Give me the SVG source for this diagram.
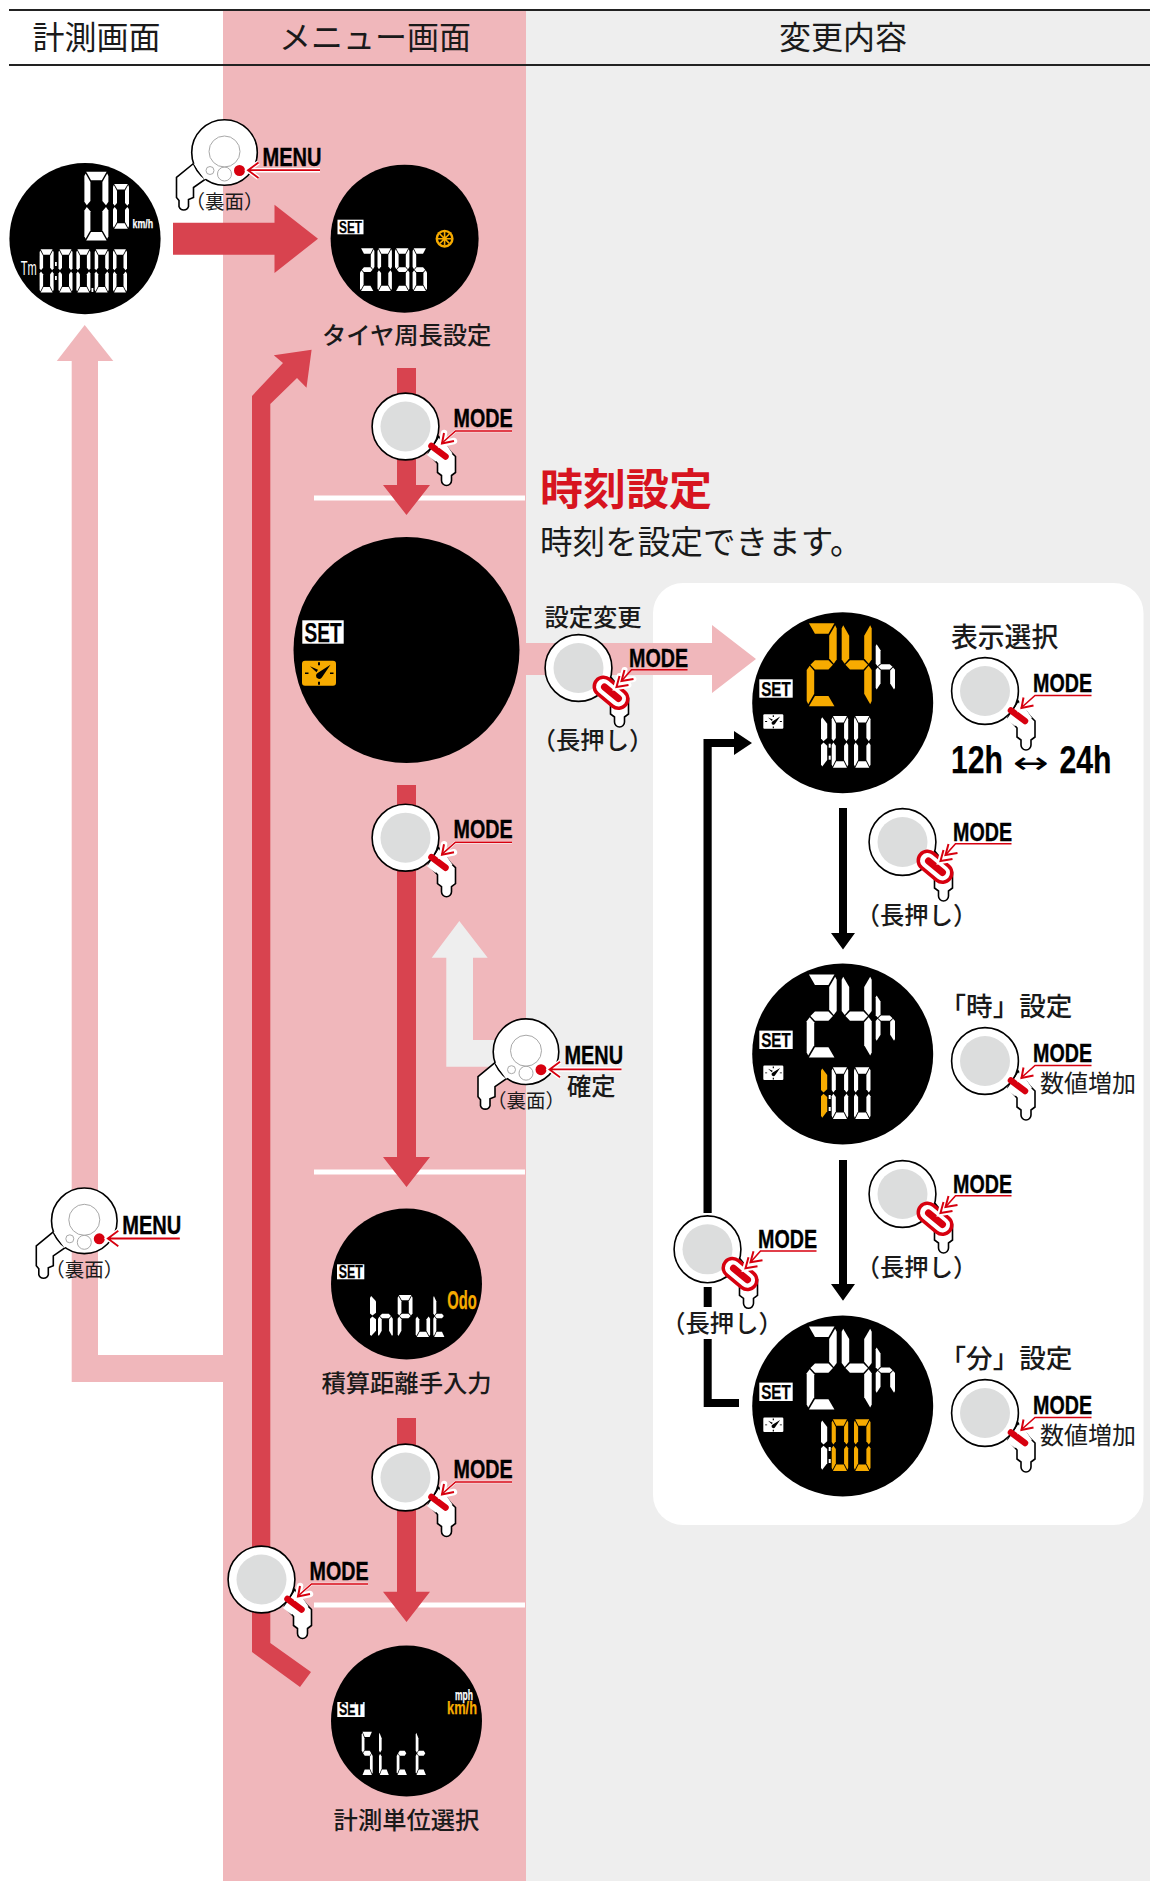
<svg xmlns="http://www.w3.org/2000/svg" width="1150" height="1881" viewBox="0 0 1150 1881">
<style>
text{font-family:"Noto Sans CJK JP","Noto Sans",sans-serif;fill:#1a1a1a}
.c{text-anchor:middle}
.h{font-size:32px}
.m{font-size:24.3px;font-weight:500}
.n{font-family:"Liberation Sans Narrow","Liberation Sans",sans-serif;font-weight:700;fill:#000;stroke:#000;stroke-width:.25}
.lb{font-family:"Liberation Sans Narrow","Liberation Sans",sans-serif;font-weight:700;font-size:25px;fill:#000;stroke:#000;stroke-width:.35}
.ol{stroke:#000;stroke-width:1.6;fill:#fff}
.gr{fill:none;stroke:#a8a8a8;stroke-width:1}
.rl{fill:none;stroke:#d7000f;stroke-width:1.6}
.hl{fill:none;stroke:#fff;stroke-width:2.6}
.sub{font-size:19.5px}
</style>
<defs>
<polygon id="sa" points="3,0 37,0 29,10 11,10"/>
<polygon id="sb" points="38,2 40,5 40,35 36,39 30,34 30,12"/>
<polygon id="sc" points="40,45 40,75 38,78 30,68 30,46 36,41"/>
<polygon id="sd" points="37,80 3,80 11,70 29,70"/>
<polygon id="se" points="0,45 4,41 10,46 10,68 2,78 0,75"/>
<polygon id="sf" points="0,5 2,2 10,12 10,34 4,39 0,35"/>
<polygon id="sg" points="5,40 11,35.5 29,35.5 35,40 29,44.5 11,44.5"/>
<g id="d0"><use href="#sa"/><use href="#sb"/><use href="#sc"/><use href="#sd"/><use href="#se"/><use href="#sf"/></g>
<g id="d1"><use href="#se"/><use href="#sf"/></g>
<g id="d2"><use href="#sa"/><use href="#sb"/><use href="#sg"/><use href="#se"/><use href="#sd"/></g>
<g id="d4"><use href="#sf"/><use href="#sg"/><use href="#sb"/><use href="#sc"/></g>
<g id="d5"><use href="#sa"/><use href="#sf"/><use href="#sg"/><use href="#sc"/><use href="#sd"/></g>
<g id="d6"><use href="#sa"/><use href="#sf"/><use href="#sg"/><use href="#se"/><use href="#sc"/><use href="#sd"/></g>
<g id="d9"><use href="#sa"/><use href="#sb"/><use href="#sf"/><use href="#sg"/><use href="#sc"/><use href="#sd"/></g>
<g id="dh"><use href="#sf"/><use href="#se"/><use href="#sg"/><use href="#sc"/></g>
<g id="dn"><use href="#se"/><use href="#sg"/><use href="#sc"/></g>
<g id="dP"><use href="#sa"/><use href="#sb"/><use href="#sf"/><use href="#sg"/><use href="#se"/></g>
<g id="du"><use href="#se"/><use href="#sd"/><use href="#sc"/></g>
<g id="dt"><use href="#sf"/><use href="#se"/><use href="#sg"/><use href="#sd"/></g>
<g id="dL"><use href="#sf"/><use href="#se"/><use href="#sd"/></g>
<g id="dc"><use href="#sg"/><use href="#se"/><use href="#sd"/></g>
<g id="clock">
<path d="M0,3a3,3 0 0 1 3,-3H31a3,3 0 0 1 3,3V22a3,3 0 0 1 -3,3H3a3,3 0 0 1 -3,-3Z"/>
<path d="M16,1.5h2v3h-2zM16,21h2v3h-2zM3,11.7h3.5v1.6H3zM28,11.7h3.5v1.6H28zM8,5.5l8,3.5-1.5,2.5zM28.5,4L20,16.5a3.2,3.2 0 0 1-6,-1.5a3.2,3.2 0 0 1 2,-3Z" fill="#000"/>
</g>
<g id="clockw">
<path d="M0,2a2,2 0 0 1 2,-2H32a2,2 0 0 1 2,2V23a2,2 0 0 1 -2,2H2a2,2 0 0 1 -2,-2Z" fill="#fff"/>
<path d="M16,1.5h2v3h-2zM16,21h2v3h-2zM3,11.7h3.5v1.6H3zM28,11.7h3.5v1.6H28zM8,5.5l8,3.5-1.5,2.5zM28.5,4L20,16.5a3.2,3.2 0 0 1-6,-1.5a3.2,3.2 0 0 1 2,-3Z" fill="#000"/>
</g>
<g id="front">
<path class="ol" d="M23,27L32,37V46L36,49V54A5,5 0 0 0 46,54V49L50,46V30L45,25L33,10Z"/>
<circle class="ol" r="33.4"/>
<circle r="25" fill="#dcdddd"/>
<path fill="#fff" d="M31.5,15L21.5,28.5L30,35L47,27L38,14Z"/>
<path d="M26,19.5L40,30" stroke="#d7000f" stroke-width="6.5" stroke-linecap="round" fill="none"/>
<path d="M36,17L50,4.5H106.5" class="hl"/>
<path d="M38.5,6.5L36.5,17L48.5,14.5" fill="none" stroke="#fff" stroke-width="6.5" stroke-linecap="round"/>
<path d="M36,17L50,4.5H106.5" class="rl"/>
<path d="M38.5,6.5L36.5,17L48.5,14.5" fill="none" stroke="#d7000f" stroke-width="2"/>
</g>
<g id="long">
<path class="ol" d="M23,27L32,37V46L36,49V54A5,5 0 0 0 46,54V49L50,46V30L45,25L33,10Z"/>
<circle class="ol" r="33.4"/>
<circle r="25" fill="#dcdddd"/>
<path d="M25,18.5L40,31" stroke="#d7000f" stroke-width="22" stroke-linecap="round" fill="none"/>
<path d="M25,18.5L40,31" stroke="#fff" stroke-width="15" stroke-linecap="round" fill="none"/>
<path d="M26,19L40,30.5" stroke="#d7000f" stroke-width="7" stroke-linecap="round" fill="none"/>
<path d="M41,8L38,19L50,17M46,2L43,13L55,11" fill="none" stroke="#fff" stroke-width="6" stroke-linecap="round"/>
<path d="M43,13L53,1.7H109" class="rl"/>
<path d="M41,8L38,19L50,17M46,2L43,13L55,11" fill="none" stroke="#d7000f" stroke-width="2"/>
</g>
<g id="back">
<path class="ol" d="M-31,11L-48,25V45L-45.5,48V54A5,5 0 0 0 -36,54V47L-31,45V35L-19.5,27L0,0Z"/>
<circle class="ol" r="32.8"/>
<path d="M-31,11L-20,27L0,15Z" fill="#fff"/>
<circle class="gr" cy="-1" r="15.5"/>
<circle class="gr" cx="-14.5" cy="18" r="4"/>
<circle class="gr" cy="21.5" r="7"/>
<circle cx="15" cy="18" r="5.5" fill="#d7000f"/>
<path d="M34,10L23.5,17.7L34,25.5M25,17.7H95.5" fill="none" stroke="#fff" stroke-width="4.5"/>
<path d="M34,10L23.5,17.7L34,25.5M25,17.7H95.5" fill="none" stroke="#d7000f" stroke-width="1.8"/>
</g>
</defs>

<rect width="1150" height="1881" fill="#fff"/>
<rect x="526" y="10" width="624" height="1871" fill="#eeeeee"/>
<rect x="223" y="10" width="303" height="1871" fill="#f0b7bb"/>
<rect x="653" y="583" width="490.5" height="942" rx="30" fill="#fff"/>
<path d="M9,10H1150M9,65H1150" stroke="#222" stroke-width="2" fill="none"/>
<g id="headers">
<text class="h c" x="96.5" y="49">計測画面</text>
<text class="h c" x="375" y="49">メニュー画面</text>
<text class="h c" x="843" y="49">変更内容</text>
</g>
<path id="dividers" d="M314,498H525M314,1172H525M314,1605H525" stroke="#fff" stroke-width="5" fill="none"/>

<g id="connectors">
<path fill="#f0b7bb" d="M84.7,325L113.3,361H98V1355H223V1382H71.7V361H56.8Z"/>
<path fill="#f0b7bb" d="M526,643H712V625L756,659L712,693V675H526Z"/>
<path fill="#d8434f" d="M173,222.7H274.5V204.7L318,238.7L274.5,273V254.7H173Z"/>
<path fill="#d8434f" d="M397,368H416V485H430L406.5,515L383,485H397Z"/>
<path fill="#d8434f" d="M397,785H416V1157H430L406.5,1187L383,1157H397Z"/>
<path fill="#d8434f" d="M397,1418H416V1591.7H430L406.5,1622L383,1591.7H397Z"/>
<path fill="#d8434f" d="M252,396L283,363L273.8,355.3L311.6,349.7L306.5,387.7L297,378L270.3,404V1643L311,1672L300,1687L252,1652Z"/>
<path fill="#eeeeee" d="M459.3,921L487.7,957.7H473V1040H510V1066.7H446.3V957.7H431.7Z"/>
<path fill="#000" d="M839,808H847V933H855L843,949.5L831,933H839Z"/>
<path fill="#000" d="M839,1160H847V1284H855L843,1300.7L831,1284H839Z"/>
<path fill="#000" d="M703.5,1213V739H734V731L752,743L734,755V747H711.7V1213Z"/>
<path fill="#000" d="M703.7,1287H711.7V1307H703.7ZM703.7,1339H711.7V1399H739V1407H703.7Z"/>
</g>

<g id="device-speed">
<circle cx="85" cy="238.7" r="75.6" fill="#000"/>
<g fill="#fff">
<use href="#d0" transform="translate(84.4,171.7) scale(.6,.86)"/>
<use href="#d0" transform="translate(113,184) scale(.4,.56)"/>
<use href="#d0" transform="translate(39.6,249.3) scale(.35,.54)"/>
<use href="#d0" transform="translate(58.5,249.3) scale(.35,.54)"/>
<use href="#d0" transform="translate(76.4,249.3) scale(.35,.54)"/>
<use href="#d0" transform="translate(94.7,249.3) scale(.35,.54)"/>
<use href="#d0" transform="translate(113,249.3) scale(.35,.54)"/>
<rect x="55" y="262" width="1.8" height="4"/><rect x="55" y="276" width="1.8" height="4"/><rect x="91.5" y="288" width="1.8" height="4"/>
</g>
<text class="n" style="fill:#fff;stroke:#fff" x="132.6" y="227.7" font-size="12" textLength="20.5" lengthAdjust="spacingAndGlyphs">km/h</text>
<text class="n" style="fill:#fff;stroke:none;font-weight:400" x="20.7" y="275" font-size="20" textLength="16" lengthAdjust="spacingAndGlyphs">Tm</text>
</g>

<g id="device-tire">
<circle cx="404.6" cy="238.7" r="74" fill="#000"/>
<rect x="337.5" y="219.7" width="26" height="14.6" fill="#fff"/>
<text class="n" x="339" y="232.9" font-size="17" textLength="23" lengthAdjust="spacingAndGlyphs">SET</text>
<circle cx="444.6" cy="238.7" r="9" fill="#f7ab00"/>
<circle cx="444.6" cy="238.7" r="6.6" fill="#000"/>
<path d="M444.6,232V245.4M437.9,238.7H451.3M439.9,234L449.3,243.4M449.3,234L439.9,243.4" stroke="#f7ab00" stroke-width="1.6"/>
<g fill="#fff">
<use href="#d2" transform="translate(360,248.3) scale(.36,.535)"/>
<use href="#d0" transform="translate(377.5,248.3) scale(.36,.535)"/>
<use href="#d9" transform="translate(395,248.3) scale(.36,.535)"/>
<use href="#d6" transform="translate(412.6,248.3) scale(.36,.535)"/>
</g>
<text class="m c" x="406.7" y="343.5">タイヤ周長設定</text>
</g>

<g id="device-clock">
<circle cx="406.5" cy="650" r="113" fill="#000"/>
<rect x="302.3" y="620.3" width="41.4" height="23.4" fill="#fff"/>
<text class="n" x="304.5" y="641.5" font-size="27" textLength="37" lengthAdjust="spacingAndGlyphs">SET</text>
<use href="#clock" fill="#f7ab00" transform="translate(302,660.7)"/>
</g>

<g id="title">
<text x="540" y="505" font-size="43" font-weight="700" style="fill:#d7141f">時刻設定</text>
<text x="540" y="554" font-size="32.6">時刻を設定できます。</text>
</g>

<g id="device-time-hour-format" transform="translate(842.7,702.7)">
<circle r="90.5" fill="#000"/>
<g fill="#f7ab00">
<use href="#d2" transform="translate(-36,-79.4) scale(.75,1.0375)"/>
<use href="#d4" transform="translate(-1,-79.4) scale(.75,1.0375)"/>
</g>
<g fill="#fff">
<use href="#dh" transform="translate(33,-59.7) scale(.4825,.596)"/>
<use href="#d1" transform="translate(-21.7,13.3) scale(.62,.646)"/>
<use href="#d0" transform="translate(-11,13.3) scale(.4125,.646)"/>
<use href="#d0" transform="translate(11.3,13.3) scale(.4125,.646)"/>
<rect x="-14" y="41" width="2" height="4"/><rect x="-14" y="53" width="2" height="4"/>
</g>
<rect x="-83.4" y="-23.4" width="33.4" height="18.4" fill="#fff"/>
<text class="n" x="-81.5" y="-7" font-size="21" textLength="29.5" lengthAdjust="spacingAndGlyphs">SET</text>
<use href="#clockw" transform="translate(-79.4,11.6) scale(.59,.58)"/>
</g>

<g id="device-time-hour" transform="translate(842.7,1054)">
<circle r="90.5" fill="#000"/>
<g fill="#fff">
<use href="#d2" transform="translate(-36,-79.4) scale(.75,1.0375)"/>
<use href="#d4" transform="translate(-1,-79.4) scale(.75,1.0375)"/>
<use href="#dh" transform="translate(33,-59.7) scale(.4825,.596)"/>
<use href="#d0" transform="translate(-11,13.3) scale(.4125,.646)"/>
<use href="#d0" transform="translate(11.3,13.3) scale(.4125,.646)"/>
<rect x="-14" y="41" width="2" height="4"/><rect x="-14" y="53" width="2" height="4"/>
</g>
<use href="#d1" fill="#f7ab00" transform="translate(-21.7,13.3) scale(.62,.646)"/>
<rect x="-83.4" y="-23.4" width="33.4" height="18.4" fill="#fff"/>
<text class="n" x="-81.5" y="-7" font-size="21" textLength="29.5" lengthAdjust="spacingAndGlyphs">SET</text>
<use href="#clockw" transform="translate(-79.4,11.6) scale(.59,.58)"/>
</g>

<g id="device-time-minute" transform="translate(842.7,1406)">
<circle r="90.5" fill="#000"/>
<g fill="#fff">
<use href="#d2" transform="translate(-36,-79.4) scale(.75,1.0375)"/>
<use href="#d4" transform="translate(-1,-79.4) scale(.75,1.0375)"/>
<use href="#dh" transform="translate(33,-59.7) scale(.4825,.596)"/>
<use href="#d1" transform="translate(-21.7,13.3) scale(.62,.646)"/>
<rect x="-14" y="41" width="2" height="4"/><rect x="-14" y="53" width="2" height="4"/>
</g>
<g fill="#f7ab00">
<use href="#d0" transform="translate(-11,13.3) scale(.4125,.646)"/>
<use href="#d0" transform="translate(11.3,13.3) scale(.4125,.646)"/>
</g>
<rect x="-83.4" y="-23.4" width="33.4" height="18.4" fill="#fff"/>
<text class="n" x="-81.5" y="-7" font-size="21" textLength="29.5" lengthAdjust="spacingAndGlyphs">SET</text>
<use href="#clockw" transform="translate(-79.4,11.6) scale(.59,.58)"/>
</g>

<g id="device-input">
<circle cx="406.5" cy="1284" r="75.5" fill="#000"/>
<rect x="337" y="1264.3" width="27.3" height="15" fill="#fff"/>
<text class="n" x="338.7" y="1277.7" font-size="17.5" textLength="24" lengthAdjust="spacingAndGlyphs">SET</text>
<g fill="#fff">
<use href="#d1" transform="translate(370,1295) scale(.6,.525)"/>
<use href="#dn" transform="translate(378,1295) scale(.37,.525)"/>
<use href="#dP" transform="translate(397.7,1295) scale(.37,.525)"/>
<use href="#du" transform="translate(415.7,1295) scale(.36,.525)"/>
<use href="#dt" transform="translate(433.3,1295) scale(.3,.525)"/>
</g>
<text class="n" style="fill:#f7ab00;stroke:#f7ab00" x="447.3" y="1309" font-size="26" textLength="29.5" lengthAdjust="spacingAndGlyphs">Odo</text>
<text class="m c" x="406.5" y="1392">積算距離手入力</text>
</g>

<g id="device-units">
<circle cx="406.5" cy="1721" r="75.5" fill="#000"/>
<rect x="337.3" y="1702" width="27.3" height="15" fill="#fff"/>
<text class="n" x="339" y="1715.3" font-size="17.5" textLength="24" lengthAdjust="spacingAndGlyphs">SET</text>
<g fill="#fff">
<use href="#d5" transform="translate(361.7,1731.7) scale(.275,.54)"/>
<use href="#dL" transform="translate(379,1731.7) scale(.265,.54)"/>
<use href="#dc" transform="translate(396.7,1731.7) scale(.275,.54)"/>
<use href="#dt" transform="translate(415.7,1731.7) scale(.275,.54)"/>
</g>
<text class="n" style="fill:#fff;stroke:#fff" x="455" y="1700" font-size="14" textLength="18" lengthAdjust="spacingAndGlyphs">mph</text>
<text class="n" style="fill:#f7ab00;stroke:#f7ab00" x="447" y="1714.3" font-size="19" textLength="30" lengthAdjust="spacingAndGlyphs">km/h</text>
<text class="m c" x="406.5" y="1829">計測単位選択</text>
</g>

<g id="btn-menu-1" transform="translate(224.5,152.5)">
<use href="#back"/>
<text class="lb" x="38" y="13.2" textLength="59" lengthAdjust="spacingAndGlyphs">MENU</text>
<text class="c sub" x="0" y="56">（裏面）</text>
</g>
<g id="btn-menu-2" transform="translate(84.3,1220.8)">
<use href="#back"/>
<text class="lb" x="38" y="13.2" textLength="59" lengthAdjust="spacingAndGlyphs">MENU</text>
<text class="c sub" x="0" y="56">（裏面）</text>
</g>
<g id="btn-menu-3" transform="translate(526,1051.7)">
<use href="#back"/>
<text class="lb" x="38.5" y="12.5" textLength="58.5" lengthAdjust="spacingAndGlyphs">MENU</text>
<text class="c sub" x="0" y="56">（裏面）</text>
<text class="m" x="41" y="43.5">確定</text>
</g>

<g id="btn-mode-1" transform="translate(405.5,426.5)"><use href="#front"/><text class="lb" x="48" y="0.5" textLength="59" lengthAdjust="spacingAndGlyphs">MODE</text></g>
<g id="btn-mode-2" transform="translate(405.5,837.7)"><use href="#front"/><text class="lb" x="48" y="0.5" textLength="59" lengthAdjust="spacingAndGlyphs">MODE</text></g>
<g id="btn-mode-3" transform="translate(405.5,1477.5)"><use href="#front"/><text class="lb" x="48" y="0.5" textLength="59" lengthAdjust="spacingAndGlyphs">MODE</text></g>
<g id="btn-mode-4" transform="translate(261.5,1579.5)"><use href="#front"/><text class="lb" x="48" y="0.5" textLength="59" lengthAdjust="spacingAndGlyphs">MODE</text></g>
<g id="btn-mode-5" transform="translate(578.5,668)"><use href="#long"/><text class="lb" x="50.5" y="-1.2" textLength="59" lengthAdjust="spacingAndGlyphs">MODE</text><text class="m c" x="14" y="81">（長押し）</text><text class="m c" x="14.5" y="-42">設定変更</text></g>
<g id="btn-mode-6" transform="translate(985,691)"><use href="#front"/><text class="lb" x="48" y="0.5" textLength="59" lengthAdjust="spacingAndGlyphs">MODE</text></g>
<g id="btn-mode-7" transform="translate(902.5,842)"><use href="#long"/><text class="lb" x="50.5" y="-1.2" textLength="59" lengthAdjust="spacingAndGlyphs">MODE</text><text x="14" y="82" class="m c">（長押し）</text></g>
<g id="btn-mode-8" transform="translate(985,1061)"><use href="#front"/><text class="lb" x="48" y="0.5" textLength="59" lengthAdjust="spacingAndGlyphs">MODE</text></g>
<g id="btn-mode-9" transform="translate(902.5,1194)"><use href="#long"/><text class="lb" x="50.5" y="-1.2" textLength="59" lengthAdjust="spacingAndGlyphs">MODE</text><text x="14" y="82" class="m c">（長押し）</text></g>
<g id="btn-mode-10" transform="translate(707.5,1249.3)"><use href="#long"/><text class="lb" x="50.5" y="-1.2" textLength="59" lengthAdjust="spacingAndGlyphs">MODE</text><text x="14.5" y="82.7" class="m c">（長押し）</text></g>
<g id="btn-mode-11" transform="translate(985,1413)"><use href="#front"/><text class="lb" x="48" y="0.5" textLength="59" lengthAdjust="spacingAndGlyphs">MODE</text></g>

<g id="labels">
<text x="951" y="647" font-size="26.8" font-weight="500">表示選択</text>
<text class="n" x="951" y="773" font-size="39" textLength="52" lengthAdjust="spacingAndGlyphs">12h</text>
<text x="1012.5" y="773" style="font-family:'DejaVu Sans',sans-serif;fill:#000" font-size="30" textLength="36" lengthAdjust="spacingAndGlyphs">↔</text>
<text class="n" x="1059.5" y="773" font-size="39" textLength="52" lengthAdjust="spacingAndGlyphs">24h</text>
<text x="939.5" y="1016" font-size="26.6" font-weight="500">「時」設定</text>
<text x="1040" y="1091.5" font-size="24">数値増加</text>
<text x="939.5" y="1368" font-size="26.6" font-weight="500">「分」設定</text>
<text x="1040" y="1443.5" font-size="24">数値増加</text>
</g>
</svg>
